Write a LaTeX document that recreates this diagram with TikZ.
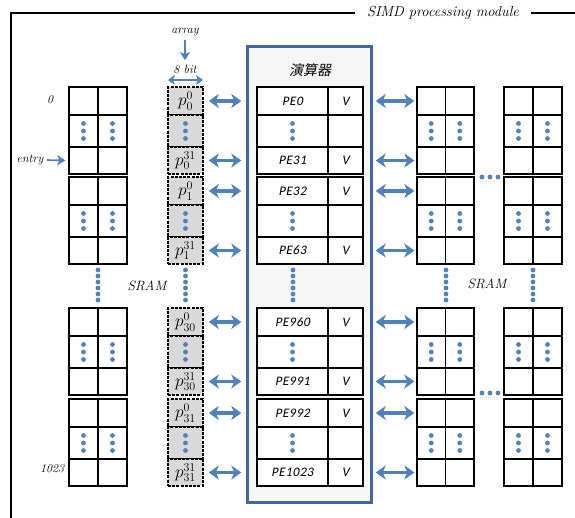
\documentclass[tikz,border=0pt]{standalone}
\usepackage{fontspec}
\newfontfamily\pefont[FakeSlant=0.18,LetterSpace=4]{Carlito}
\newfontfamily\cjk[FakeSlant=0.2]{Noto Sans CJK JP}
\usetikzlibrary{arrows.meta,positioning}
\definecolor{dotblue}{HTML}{4F81BD}
\definecolor{frameblue}{HTML}{41679E}
\definecolor{regfill}{HTML}{D9D9D9}
\definecolor{pefill}{HTML}{F6F6F6}
\tikzset{
  cell/.style={draw=black,line width=1.4pt,fill=white,inner sep=0pt,font=\pefont\fontsize{13}{15}\selectfont},
  regcell/.style={draw=black,line width=1.6pt,dash pattern=on 3pt off 1.2pt,fill=regfill,minimum width=35pt,inner sep=0pt,font=\fontsize{17}{19}\selectfont},
  dbl/.style={{Stealth[length=10pt,width=14pt,inset=3pt]}-{Stealth[length=10pt,width=14pt,inset=3pt]},line width=3.2pt,color=dotblue},
  thindbl/.style={{Stealth[length=7pt,width=10pt,inset=2pt]}-{Stealth[length=7pt,width=10pt,inset=2pt]},line width=1.8pt,color=dotblue},
  arr/.style={-{Stealth[length=8pt,width=10pt,inset=2pt]},line width=1.6pt,color=dotblue},
  lbl/.style={font=\itshape\fontsize{12}{14}\selectfont}}

\begin{document}
\begin{tikzpicture}[x=1pt,y=-1pt]
\useasboundingbox (0,0) rectangle (575,518);
% module frame
\node[lbl,font=\itshape\fontsize{14.5}{17}\selectfont] (simd) at (443,13) {SIMD processing module};
\draw[line width=1.5pt] ([xshift=-8pt]simd.west) -- (11,13) -- (11,518);
\draw[line width=1.5pt] ([xshift=8pt]simd.east) -- (575,13);
% arithmetic unit
\node[draw=frameblue,line width=3pt,fill=pefill,minimum width=124pt,minimum height=456pt,inner sep=0pt] (alu) at (309,274.5) {};
\node[font=\cjk\fontsize{14}{16}\selectfont] (alutitle) at (310,70) {演算器};
% blocks of rows
\foreach \b/\t/\pp/\pa/\pz in {1/87/0/0/31, 2/177/1/32/63, 3/308/30/960/991, 4/399/31/992/1023} {
  \foreach \r/\h/\c/\pe/\v/\p in {1/28/14/PE\pa/V/$p_{\pp}^{0}$, 2/32/44/{}/{}/{}, 3/27/73.5/PE\pz/V/$p_{\pp}^{31}$} {
    \node[cell,minimum width=29pt,minimum height=\h] (ls-\b-\r-1) at (83.5,\t+\c) {};
    \node[cell,minimum width=29pt,minimum height=\h] (ls-\b-\r-2) at (112.5,\t+\c) {};
    \node[regcell,minimum height=\h] (reg-\b-\r) at (185.5,\t+\c) {\p};
    \node[cell,minimum width=71pt,minimum height=\h] (pe-\b-\r) at (292.5,\t+\c) {\pe};
    \node[cell,minimum width=35pt,minimum height=\h] (v-\b-\r) at (345.5,\t+\c) {\v};
    \node[cell,minimum width=28.5pt,minimum height=\h] (ra-\b-\r-1) at (431.25,\t+\c) {};
    \node[cell,minimum width=28.5pt,minimum height=\h] (ra-\b-\r-2) at (459.75,\t+\c) {};
    \node[cell,minimum width=29pt,minimum height=\h] (rb-\b-\r-1) at (518.5,\t+\c) {};
    \node[cell,minimum width=29pt,minimum height=\h] (rb-\b-\r-2) at (547.5,\t+\c) {};
  }
  % dots in the middle rows
  \foreach \n in {ls-\b-2-1,ls-\b-2-2,reg-\b-2,pe-\b-2,ra-\b-2-1,ra-\b-2-2,rb-\b-2-1,rb-\b-2-2}
    \foreach \d in {-7.5,0,7.5}
      \fill[dotblue] (\n.center) ++(0,\d) circle (2.4);
  % links
  \foreach \r in {1,3} {
    \draw[dbl,shorten <=5pt,shorten >=15pt] (reg-\b-\r.east) -- (pe-\b-\r.west);
    \draw[dbl,shorten <=12pt,shorten >=2pt] (v-\b-\r.east) -- (ra-\b-\r-1.west);
  }
}
% gaps
\foreach \x in {98,185.5,293,446,533}
  \foreach \y in {270,276,...,300}
    \fill[dotblue] (\x,\y) circle (2.4);
\foreach \y in {177,393}
  \foreach \x in {482,490,498}
    \fill[dotblue] (\x,\y) circle (2.4);
% labels
\node[lbl] (first) at (50,100) {0};
\node[lbl] (last) at (52,469) {1023};
\node[lbl] (entry) at (30,160) {entry};
\draw[arr,shorten >=3pt] (entry.east) -- (ls-1-3-1.west);
\node[lbl,font=\itshape\fontsize{13.5}{16}\selectfont] (lsram) at (147,286) {SRAM};
\node[lbl,font=\itshape\fontsize{13.5}{16}\selectfont] (rsram) at (487,284) {SRAM};
\node[lbl] (array) at (185,32) {array};
\node[lbl] (bits) at (185,69) {8 bit};
\draw[arr,shorten <=1pt,shorten >=1pt] (array) -- (bits);
\coordinate (bl) at (168,80);
\coordinate (br) at (203,80);
\draw[thindbl] (bl) -- (br);
\end{tikzpicture}
\end{document}
